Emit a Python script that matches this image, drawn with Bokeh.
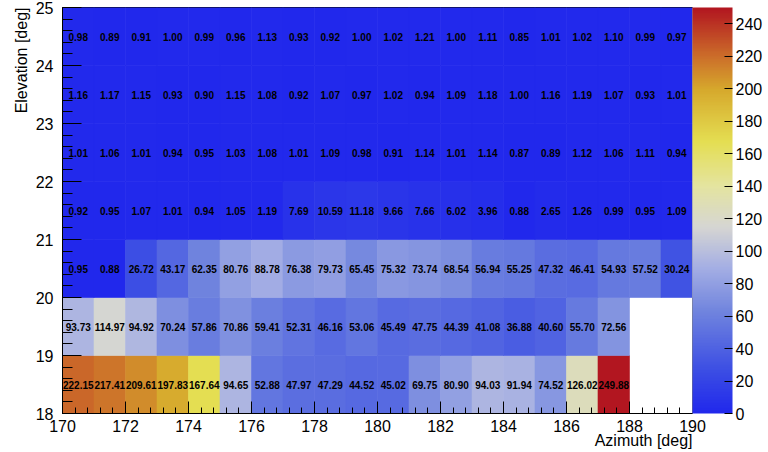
import numpy as np
from bokeh.plotting import figure
from bokeh.models import (ColumnDataSource, LinearColorMapper, ColorBar,
                          SingleIntervalTicker, FixedTicker, Title)
from bokeh.core.properties import value
from bokeh.embed import file_html
from bokeh.resources import INLINE

# ---- data ----
azimuth_low_edges = list(range(170, 190))      # bin lower edges, width 1 deg
elevation_low_edges = [18, 19, 20, 21, 22, 23, 24]

row_18 = [222.15, 217.41, 209.61, 197.83, 167.64, 94.65, 52.88, 47.97, 47.29, 44.52,
          45.02, 69.75, 80.90, 94.03, 91.94, 74.52, 126.02, 249.88, None, None]
row_19 = [93.73, 114.97, 94.92, 70.24, 57.86, 70.86, 59.41, 52.31, 46.16, 53.06,
          45.49, 47.75, 44.39, 41.08, 36.88, 40.60, 55.70, 72.56, None, None]
row_20 = [0.95, 0.88, 26.72, 43.17, 62.35, 80.76, 88.78, 76.38, 79.73, 65.45,
          75.32, 73.74, 68.54, 56.94, 55.25, 47.32, 46.41, 54.93, 57.52, 30.24]
row_21 = [0.92, 0.95, 1.07, 1.01, 0.94, 1.05, 1.19, 7.69, 10.59, 11.18,
          9.66, 7.66, 6.02, 3.96, 0.88, 2.65, 1.26, 0.99, 0.95, 1.09]
row_22 = [1.01, 1.06, 1.01, 0.94, 0.95, 1.03, 1.08, 1.01, 1.09, 0.98,
          0.91, 1.14, 1.01, 1.14, 0.87, 0.89, 1.12, 1.06, 1.11, 0.94]
row_23 = [1.16, 1.17, 1.15, 0.93, 0.90, 1.15, 1.08, 0.92, 1.07, 0.97,
          1.02, 0.94, 1.09, 1.18, 1.00, 1.16, 1.19, 1.07, 0.93, 1.01]
row_24 = [0.98, 0.89, 0.91, 1.00, 0.99, 0.96, 1.13, 0.93, 0.92, 1.00,
          1.02, 1.21, 1.00, 1.11, 0.85, 1.01, 1.02, 1.10, 0.99, 0.97]
rows = [row_18, row_19, row_20, row_21, row_22, row_23, row_24]

z_ticks = [0, 20, 40, 60, 80, 100, 120, 140, 160, 180, 200, 220, 240]
z_max = 249.88
x_title = "Azimuth [deg]"
y_title = "Elevation [deg]"

# ---- palette (colour style) ----
anchors = [
    (0.00, (33, 40, 236)),
    (0.10, (58, 76, 228)),
    (0.25, (112, 132, 222)),
    (0.36, (165, 175, 228)),
    (0.46, (214, 214, 210)),
    (0.56, (228, 228, 160)),
    (0.67, (228, 222, 82)),
    (0.80, (214, 168, 44)),
    (0.88, (204, 110, 42)),
    (1.00, (178, 22, 32)),
]
pos = np.array([a[0] for a in anchors])
cols = np.array([a[1] for a in anchors], dtype=float)
t = np.linspace(0, 1, 256)
palette = ["#%02x%02x%02x" % tuple(int(round(np.interp(tt, pos, cols[:, k]))) for k in range(3)) for tt in t]

xs, ys, vs, labels = [], [], [], []
for ylow, row in zip(elevation_low_edges, rows):
    for xlow, v in zip(azimuth_low_edges, row):
        if v is None:
            continue
        xs.append(xlow + 0.5)
        ys.append(ylow + 0.5)
        vs.append(v)
        labels.append("%.2f" % v)
src = ColumnDataSource(dict(x=xs, y=ys, v=vs, t=labels))

mapper = LinearColorMapper(palette=palette, low=0, high=z_max)

p = figure(width=768, height=452, x_range=(170, 190), y_range=(18, 25),
           output_backend="svg", toolbar_location=None,
           min_border_left=62, min_border_right=76, min_border_top=7, min_border_bottom=39)
p.background_fill_color = "white"
p.border_fill_color = "white"
p.outline_line_color = "black"
p.outline_line_width = 1
p.grid.visible = False

p.rect(x="x", y="y", width=1, height=1, source=src,
       fill_color={"field": "v", "transform": mapper},
       line_color={"field": "v", "transform": mapper}, line_width=0.6)
p.text(x="x", y="y", text="t", source=src, text_align="center", text_baseline="middle",
       text_font=value("Liberation Sans"), text_font_style="bold", text_font_size="10px",
       text_color="black")

font = "Liberation Sans"
p.xaxis.ticker = SingleIntervalTicker(interval=2, num_minor_ticks=5)
p.yaxis.ticker = SingleIntervalTicker(interval=1, num_minor_ticks=5)
for ax in (p.xaxis[0], p.yaxis[0]):
    ax.major_tick_out = 0
    ax.minor_tick_out = 0
    ax.major_label_text_font = font
    ax.major_label_text_font_size = "16px"
    ax.major_label_text_color = "black"
    ax.axis_line_color = "black"
    ax.major_tick_line_color = "black"
    ax.minor_tick_line_color = "black"
p.xaxis.major_tick_in = 12
p.xaxis.minor_tick_in = 6
p.yaxis.major_tick_in = 19
p.yaxis.minor_tick_in = 10
p.xaxis.major_label_standoff = 6
p.yaxis.major_label_standoff = 9

cb = ColorBar(color_mapper=mapper, width=40, padding=0, margin=5,
              ticker=FixedTicker(ticks=z_ticks), major_label_text_font=font,
              major_label_text_font_size="16px", label_standoff=3,
              major_label_text_color="black",
              major_tick_in=8, major_tick_out=0, major_tick_line_color="black",
              bar_line_color=None, border_line_color=None, background_fill_color="white")
p.add_layout(cb, "right")

p.add_layout(Title(text=x_title, align="right", text_font=font, text_font_size="16px",
                   text_font_style="normal", text_color="black", standoff=-9, offset=0), "below")
p.add_layout(Title(text=y_title, align="right", text_font=font, text_font_size="16px",
                   text_font_style="normal", text_color="black", standoff=6, offset=0), "left")

open("out.html", "w").write(file_html(p, INLINE))
